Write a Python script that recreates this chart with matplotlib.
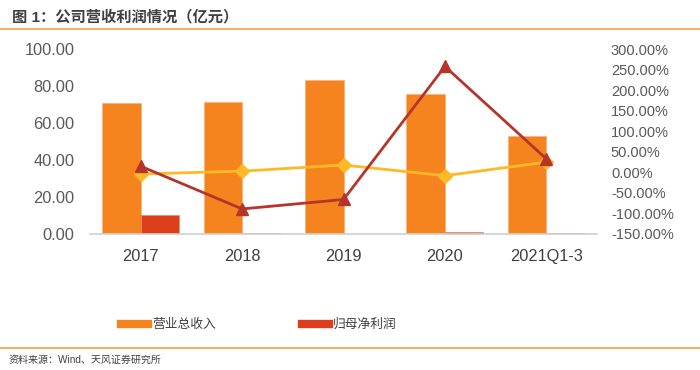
import matplotlib
matplotlib.use("Agg")
import matplotlib.pyplot as plt
import numpy as np
from matplotlib.lines import Line2D

plt.rcParams['font.family'] = ['Liberation Sans', 'Noto Sans CJK SC', 'DejaVu Sans']

categories = ["2017", "2018", "2019", "2020", "2021Q1-3"]
revenue = [70.8, 71.3, 83.2, 76.0, 52.8]
net_profit = [10.2, 0.6, 0.2, 1.0, 0.5]
revenue_growth = [-4.0, 3.0, 18.0, -8.0, 25.0]
profit_growth = [15.0, -89.0, -66.0, 258.0, 33.0]
left_ticks = [0, 20, 40, 60, 80, 100]
right_ticks = [-150, -100, -50, 0, 50, 100, 150, 200, 250, 300]

c_rev = "#F5841F"
c_np = "#DC3D1A"
c_yel = "#FDB927"
c_red = "#B5352A"
c_line = "#F7A04D"
c_text = "#595959"

fig = plt.figure(figsize=(7, 3.7), dpi=100)
ax = fig.add_axes([0.1286, 0.3676, 0.7243, 0.4994])
x = np.arange(len(categories))
w = 0.38
ax.bar(x - w / 2, revenue, w, color=c_rev, edgecolor="#F8B07A", linewidth=0.5, zorder=2)
ax.bar(x + w / 2, net_profit, w, color=c_np, edgecolor="#EE8A70", linewidth=0.5, zorder=2)
ax.set_xlim(-0.5, len(categories) - 0.5)
ax.set_ylim(0, 100)
ax.set_yticks(left_ticks)
ax.set_yticklabels([f"{v:.2f}" for v in left_ticks])
ax.set_xticks(x)
ax.set_xticklabels(categories)
for s in ["top", "right", "left"]:
    ax.spines[s].set_visible(False)
ax.spines["bottom"].set_color("#D0D0D0")
ax.spines["bottom"].set_linewidth(1.2)
ax.tick_params(axis="both", length=0, labelsize=11.8, colors=c_text)
ax.tick_params(axis="x", pad=11, labelcolor="#404040")
ax.tick_params(axis="y", pad=11)

ax2 = ax.twinx()
ax2.set_ylim(-150, 300)
ax2.set_yticks(right_ticks)
ax2.set_yticklabels([f"{v:.2f}%" for v in right_ticks])
for s in ax2.spines.values():
    s.set_visible(False)
ax2.tick_params(axis="y", length=0, labelsize=10.5, colors=c_text, pad=10)
ax2.plot(x, revenue_growth, color=c_yel, linewidth=2.0, marker="D", markersize=7, zorder=3)
ax2.plot(x, profit_growth, color=c_red, linewidth=2.0, marker="^", markersize=9, zorder=4)

# legend
handles = [Line2D([0], [0], color=c_rev, linewidth=6),
           Line2D([0], [0], color=c_np, linewidth=6)]
fig.legend(handles, ["营业总收入", "归母净利润"], loc="center", bbox_to_anchor=(0.37, 0.122),
           ncol=2, frameon=False, fontsize=9.2, handlelength=2.1, handletextpad=0.3,
           columnspacing=6.8, labelcolor="#404040")

# title and separators
fig.text(0.017, 0.955, "图 1：公司营收利润情况（亿元）", fontsize=11, fontweight="bold",
         color="#404040", va="center", ha="left")
fig.add_artist(Line2D([0, 1], [0.922, 0.922], color=c_line, linewidth=1.2))
fig.add_artist(Line2D([0, 1], [0.06, 0.06], color=c_line, linewidth=1.2))
fig.text(0.012, 0.027, "资料来源：Wind、天风证券研究所", fontsize=7.2, color="#404040",
         va="center", ha="left")

fig.savefig("out.png", dpi=100)
